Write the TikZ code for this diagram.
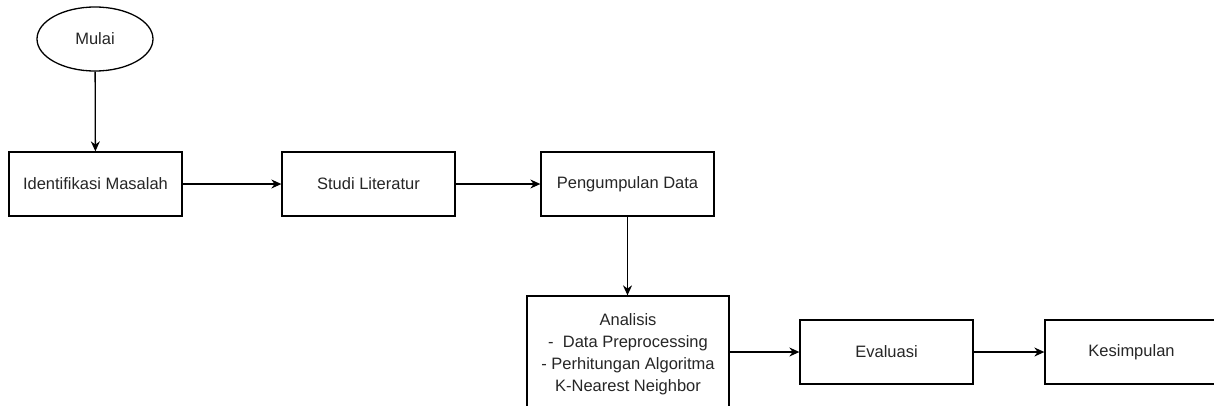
\documentclass[tikz,border=0pt]{standalone}
\usepackage{fontspec}
\setmainfont{Liberation Sans}
\usetikzlibrary{arrows.meta,shapes.geometric}
\begin{document}
\begin{tikzpicture}[x=1pt,y=-1pt,
  box/.style={draw,line width=1.3pt,fill=white,text=black!85,font=\fontsize{16.5}{22}\selectfont,align=center,inner sep=0pt},
  conn/.style={line width=1.3pt,-{Stealth[length=10pt,width=9pt]}}]
\useasboundingbox (0,0) rectangle (1214,405);
\clip (0,0) rectangle (1214,405);
\node[box,ellipse,minimum width=116pt,minimum height=64pt] (mulai) at (95,39) {Mulai};
\node[box,minimum width=173pt,minimum height=64pt] (idm) at (95.5,184) {Identifikasi Masalah};
\node[box,minimum width=173pt,minimum height=64pt] (stl) at (368.5,184) {Studi Literatur};
\node[box,minimum width=173pt,minimum height=64pt] (pgd) at (627.5,184) {Pengumpulan Data};
\node[box,minimum width=202pt,minimum height=116pt] (ana) at (628,354) {Analisis\\-\ \ Data Preprocessing\\- Perhitungan Algoritma\\K-Nearest Neighbor};
\node[box,minimum width=173pt,minimum height=64pt] (eva) at (886.5,352) {Evaluasi};
\node[box,minimum width=173pt,minimum height=64pt] (kes) at (1131.5,352) {Kesimpulan};
\draw[conn] (mulai) -- (idm);
\draw[conn] (idm) -- (stl);
\draw[conn] (stl) -- (pgd);
\draw[conn] (pgd) -- (pgd.south |- ana.north);
\draw[conn] (ana.east |- eva.west) -- (eva);
\draw[conn] (eva) -- (kes);
\end{tikzpicture}
\end{document}
